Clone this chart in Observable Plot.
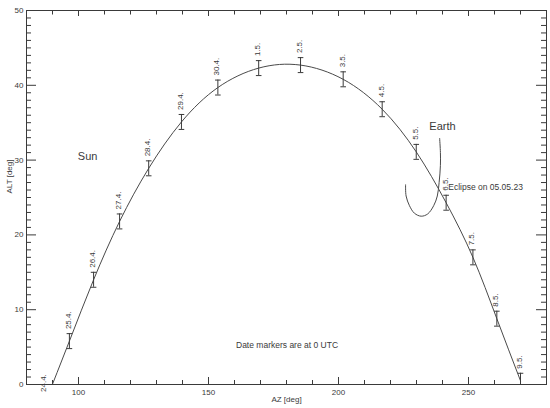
<!DOCTYPE html>
<html><head><meta charset="utf-8">
<script src="https://cdn.jsdelivr.net/npm/d3@7"></script>
<script src="https://cdn.jsdelivr.net/npm/@observablehq/plot@0.6"></script>
<style>body{margin:0;background:#fff}</style>
</head><body><div id="chart"></div>
<script>
// Sun daily positions (0 UTC)
const sunDates = ["24.4.","25.4.","26.4.","27.4.","28.4.","29.4.","30.4.","1.5.","2.5.","3.5.","4.5.","5.5.","6.5.","7.5.","8.5.","9.5."];
const sunAz  = [87.0, 96.5, 105.8, 115.8, 127.0, 139.6, 153.6, 169.3, 185.4, 201.8, 216.8, 229.9, 241.4, 251.7, 260.9, 270.0];
const sunAlt = [-2.6, 5.8, 14.0, 21.8, 28.9, 35.1, 39.7, 42.3, 42.7, 40.8, 36.8, 31.1, 24.3, 17.0, 8.8, 0.5];
const sunErr = 1;
// Earth track
const earthAz  = [238.9, 239.2, 239.2, 238.7, 238.0, 236.6, 234.3, 231.8, 229.2, 227.3, 226.0, 225.8];
const earthAlt = [32.9, 31.0, 29.3, 27.0, 25.2, 23.9, 22.8, 22.5, 22.9, 23.9, 25.2, 26.7];
// Annotations
const noteText = ["Sun", "Earth", "Eclipse on 05.05.23", "Date markers are at 0 UTC"];
const noteAz   = [103.5, 240.0, 242.2, 180.2];
const noteAlt  = [30.5, 34.5, 26.35, 5.2];
const noteAnchor = ["middle", "middle", "start", "middle"];
const noteSize = [11, 11, 8.5, 8.5];
// Axes
const xMajorTicks = [100, 150, 200, 250];
const xMinorTicks = [90, 110, 120, 130, 140, 160, 170, 180, 190, 210, 220, 230, 240, 260, 270];
const yMajorTicks = [0, 10, 20, 30, 40, 50];
const yMinorTicks = d3.range(1, 50).filter(v => v % 10 !== 0);
const xLabel = "AZ [deg]";
const yLabel = "ALT [deg]";

const sun = sunDates.map((d, i) => ({date: d, az: sunAz[i], alt: sunAlt[i]}));
const earth = earthAz.map((a, i) => ({az: a, alt: earthAlt[i]}));
const notes = noteText.map((t, i) => ({t, az: noteAz[i], alt: noteAlt[i], anchor: noteAnchor[i], size: noteSize[i]}));

const W = 550, H = 408, mL = 26, mR = 4, mT = 10, mB = 24;
const iW = W - mL - mR, iH = H - mT - mB;
const ink = "#3a3a3a", lineInk = "#4a4a4a";
const capSymbol = {draw(ctx) { ctx.moveTo(-2.8, 0); ctx.lineTo(2.8, 0); }};

const chart = Plot.plot({
  width: W, height: H,
  marginLeft: mL, marginRight: mR, marginTop: mT, marginBottom: mB,
  style: {fontFamily: "'Liberation Sans', Arial, sans-serif", fontSize: "8px", color: ink, background: "#fff"},
  x: {domain: [80, 280], ticks: xMajorTicks, tickSize: 0, tickPadding: 5, label: null},
  y: {domain: [0, 50], ticks: yMajorTicks, tickSize: 0, tickPadding: 3, label: null},
  marks: [
    Plot.frame({stroke: ink}),
    // bottom ticks
    Plot.ruleX(xMajorTicks, {x: d => d, insetTop: iH - 7, stroke: ink}),
    Plot.ruleX(xMinorTicks, {x: d => d, insetTop: iH - 4, stroke: ink}),
    // top ticks
    Plot.ruleX(xMajorTicks, {x: d => d, insetBottom: iH - 6, stroke: ink}),
    Plot.ruleX(xMinorTicks, {x: d => d, insetBottom: iH - 4.5, stroke: ink}),
    // left ticks
    Plot.ruleY(yMajorTicks, {y: d => d, insetRight: iW - 10, stroke: ink}),
    Plot.ruleY(yMinorTicks, {y: d => d, insetRight: iW - 5, stroke: ink}),
    // right ticks
    Plot.ruleY(yMajorTicks, {y: d => d, insetLeft: iW - 10, stroke: ink}),
    Plot.ruleY(yMinorTicks, {y: d => d, insetLeft: iW - 5, stroke: ink}),
    // sun path
    Plot.line(sun, {x: "az", y: "alt", curve: "natural", stroke: lineInk, strokeWidth: 1, clip: true}),
    Plot.ruleX(sun, {x: "az", y1: d => d.alt - sunErr, y2: d => d.alt + sunErr, stroke: ink, strokeWidth: 1, clip: true}),
    Plot.dot(sun, {x: "az", y: d => d.alt + sunErr, symbol: capSymbol, stroke: ink, strokeWidth: 1, fill: "none", clip: true}),
    Plot.dot(sun, {x: "az", y: d => d.alt - sunErr, symbol: capSymbol, stroke: ink, strokeWidth: 1, fill: "none", clip: true}),
    Plot.text(sun, {x: "az", y: d => d.alt, text: "date", rotate: -90, textAnchor: "start", dy: -12, dx: -1, fill: ink, fontSize: 8}),
    // earth track
    Plot.line(earth, {x: "az", y: "alt", curve: "catmull-rom", stroke: lineInk, strokeWidth: 1}),
    // annotations
    ...notes.map(n => Plot.text([n], {x: "az", y: "alt", text: "t", textAnchor: n.anchor, fontSize: n.size, fill: ink})),
    // axis titles
    Plot.text([xLabel], {text: d => d, frameAnchor: "bottom", dy: 17, fill: ink, fontSize: 8}),
    Plot.text([yLabel], {text: d => d, frameAnchor: "left", dx: -17, dy: -4, rotate: -90, fill: ink, fontSize: 8})
  ]
});
document.getElementById("chart").appendChild(chart);
</script>
</body></html>
